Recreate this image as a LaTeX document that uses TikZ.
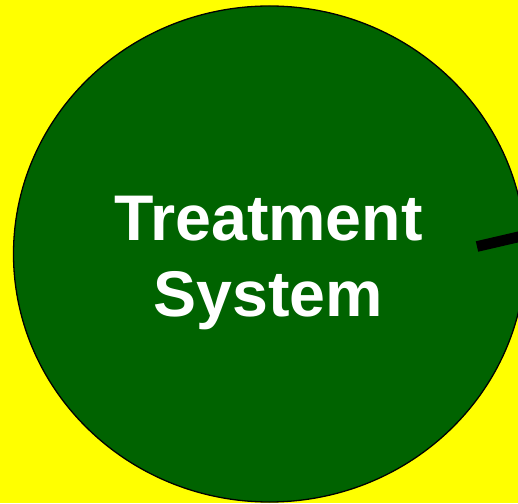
\documentclass[tikz,border=0pt]{standalone}
\usepackage{fontspec}
\setmainfont{Liberation Sans}
\definecolor{bgyellow}{RGB}{255,255,0}
\definecolor{tgreen}{RGB}{0,99,0}
\begin{document}
\begin{tikzpicture}[x=1pt,y=1pt,
  tank/.style={draw=black,line width=1.3pt,fill=tgreen},
  pipe/.style={draw=black,line width=10.7pt},
  label/.style={text=white,font=\bfseries\fontsize{64.5}{76}\selectfont,align=center,inner sep=0pt}]
\useasboundingbox (0,0) rectangle (518,503);
\clip (0,0) rectangle (518,503);
\fill[bgyellow] (0,0) rectangle (518,503);
\path[tank] (269.5,249) ellipse [x radius=256, y radius=248];
\coordinate (pipeA) at (477,256.5);
\coordinate (pipeB) at (530,268.8);
\draw[pipe] (pipeA) -- (pipeB);
\node[label,anchor=base] (ts) at (268.5,186) {Treatment\\System};
\end{tikzpicture}
\end{document}
